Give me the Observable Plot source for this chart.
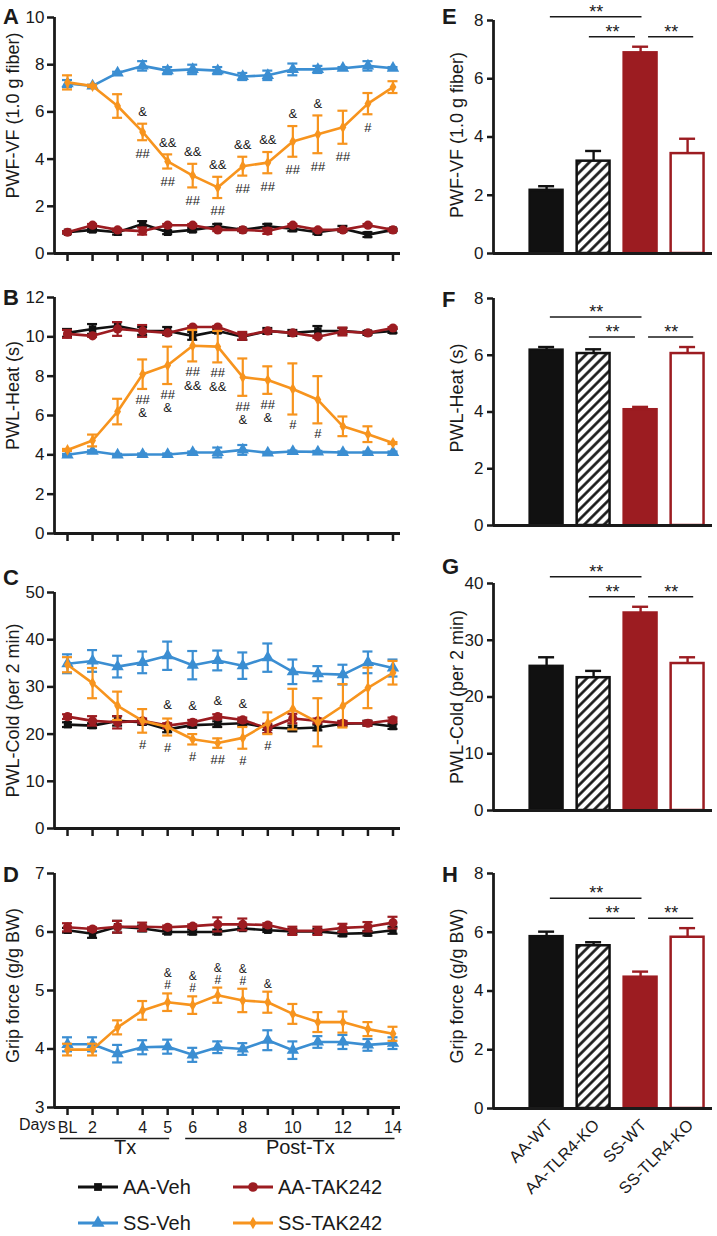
<!DOCTYPE html>
<html><head><meta charset="utf-8">
<script src="https://cdn.jsdelivr.net/npm/d3@7"></script>
<script src="https://cdn.jsdelivr.net/npm/@observablehq/plot@0.6"></script>
<style>
body{margin:0;background:#fff;}
#wrap{position:relative;width:717px;height:1236px;overflow:hidden;font-family:"Liberation Sans",Arial,Helvetica,sans-serif;color:#1a1a1a;}
.letter{position:absolute;font-weight:bold;font-size:22px;line-height:1;}
</style></head><body>
<svg width="0" height="0" style="position:absolute"><defs>
<pattern id="hatch" patternUnits="userSpaceOnUse" width="7" height="7" patternTransform="rotate(45)">
<rect width="7" height="7" fill="#fff"></rect><line x1="3.5" y1="0" x2="3.5" y2="7" stroke="#111" stroke-width="2.6"></line></pattern>
</defs></svg>
<div id="wrap"></div>
<script>
// ---------------- DATA ----------------
const days = d3.range(14);
const dayLabels = ["BL","2","","4","5","6","","8","","10","","12","","14"];
const seriesKeys = ["AAVeh","AATAK","SSVeh","SSTAK"];
const seriesNames = ["AA-Veh","AA-TAK242","SS-Veh","SS-TAK242"];

// Panel A: PWF-VF
const A_AAVeh = [0.9,1.0,0.9,1.25,0.9,1.0,1.15,1.0,1.15,1.05,0.9,1.05,0.8,1.0];
const A_AAVeh_err = [0.05,0.08,0.1,0.12,0.08,0.08,0.1,0.05,0.1,0.1,0.08,0.12,0.1,0.05];
const A_AATAK = [0.9,1.2,1.0,0.95,1.2,1.2,1.0,1.0,0.95,1.2,1.0,1.0,1.2,1.0];
const A_AATAK_err = [0.05,0.05,0.05,0.15,0.05,0.05,0.05,0.05,0.12,0.05,0.05,0.05,0.05,0.05];
const A_SSVeh = [7.2,7.1,7.65,7.95,7.75,7.8,7.75,7.5,7.55,7.8,7.8,7.85,7.95,7.85];
const A_SSVeh_err = [0.15,0.05,0.05,0.2,0.15,0.2,0.15,0.15,0.2,0.25,0.15,0.05,0.2,0.05];
const A_SSTAK = [7.25,7.1,6.25,5.15,3.9,3.3,2.8,3.7,3.85,4.75,5.05,5.35,6.35,7.05];
const A_SSTAK_err = [0.3,0.05,0.5,0.35,0.3,0.5,0.45,0.4,0.45,0.65,0.8,0.7,0.45,0.25];
const A_above = ["","","","&","&&","&&","&&","&&","&&","&","&","","",""];
const A_below = ["","","","##","##","##","##","##","##","##","##","##","#",""];

// Panel B: PWL-Heat
const B_AAVeh = [10.2,10.4,10.55,10.3,10.3,10.05,10.3,10.0,10.3,10.2,10.3,10.3,10.2,10.3];
const B_AAVeh_err = [0.2,0.25,0.2,0.2,0.2,0.2,0.1,0.15,0.15,0.15,0.25,0.15,0.1,0.1];
const B_AATAK = [10.15,10.05,10.4,10.3,10.2,10.5,10.5,10.05,10.3,10.2,10.0,10.27,10.2,10.45];
const B_AATAK_err = [0.2,0.05,0.35,0.3,0.05,0.05,0.05,0.2,0.05,0.05,0.05,0.2,0.05,0.05];
const B_SSVeh = [4.0,4.18,4.0,4.02,4.02,4.12,4.12,4.25,4.1,4.17,4.15,4.12,4.12,4.12];
const B_SSVeh_err = [0.05,0.05,0.05,0.05,0.05,0.05,0.25,0.25,0.05,0.05,0.05,0.05,0.05,0.05];
const B_SSTAK = [4.25,4.73,6.2,8.1,8.55,9.55,9.5,7.95,7.8,7.35,6.8,5.45,5.05,4.6];
const B_SSTAK_err = [0.05,0.3,0.65,0.75,0.95,0.8,0.8,0.95,0.7,1.3,1.2,0.5,0.4,0.05];
const B_below = ["","","","##\n&","##\n&","##\n&&","##\n&&","##\n&","##\n&","#","#","","",""];

// Panel C: PWL-Cold
const C_AAVeh = [22.0,21.8,22.8,22.5,21.0,21.9,22.1,22.3,21.4,21.2,21.4,22.2,22.3,21.6];
const C_AAVeh_err = [0.5,0.5,1.0,0.5,0.6,0.5,0.6,0.5,0.5,0.6,0.6,0.5,0.5,0.5];
const C_AATAK = [23.7,22.8,22.5,22.8,21.8,22.5,23.7,23.0,21.2,23.3,22.8,22.3,22.3,23.0];
const C_AATAK_err = [0.5,1.0,1.3,0.5,0.5,0.5,0.5,0.5,1.0,1.0,0.5,0.5,0.5,0.5];
const C_SSVeh = [34.9,35.5,34.3,35.2,36.6,34.6,35.6,34.5,36.2,33.2,32.8,32.6,35.2,34.0];
const C_SSVeh_err = [2.0,2.3,2.3,2.3,3.0,3.0,2.1,2.8,3.0,2.6,1.6,2.1,2.3,1.8];
const C_SSTAK = [34.7,30.8,26.0,22.8,21.5,18.9,18.1,19.2,22.3,25.3,22.5,26.0,29.8,33.0];
const C_SSTAK_err = [1.6,3.2,3.0,2.5,1.8,1.1,1.0,2.3,2.3,4.3,5.1,4.6,4.3,2.5];
const C_above = ["","","","","&","&","&","&","","","","","",""];
const C_below = ["","","","#","#","#","##","#","#","","","","",""];

// Panel D: Grip force
const D_AAVeh = [6.03,5.97,6.09,6.06,6.0,6.0,6.0,6.06,6.03,6.01,6.01,5.97,5.98,6.03];
const D_AAVeh_err = [0.04,0.07,0.1,0.05,0.03,0.04,0.04,0.03,0.03,0.04,0.04,0.04,0.04,0.06];
const D_AATAK = [6.08,6.05,6.09,6.09,6.08,6.1,6.13,6.13,6.12,6.02,6.02,6.07,6.09,6.16];
const D_AATAK_err = [0.07,0.03,0.1,0.07,0.03,0.03,0.12,0.1,0.03,0.07,0.07,0.07,0.08,0.1];
const D_SSVeh = [4.08,4.08,3.92,4.03,4.04,3.9,4.03,4.0,4.15,3.98,4.12,4.12,4.07,4.1];
const D_SSVeh_err = [0.12,0.12,0.15,0.12,0.12,0.12,0.1,0.1,0.17,0.15,0.1,0.12,0.1,0.1];
const D_SSTAK = [3.99,3.99,4.37,4.66,4.8,4.75,4.92,4.83,4.8,4.6,4.46,4.46,4.34,4.26];
const D_SSTAK_err = [0.1,0.1,0.12,0.16,0.15,0.15,0.13,0.2,0.18,0.17,0.17,0.18,0.12,0.12];
const D_above = ["","","","","&\n#","&\n#","&\n#","&\n#","&","","","","",""];

// Treatment periods
const periods = [{label: "Tx", start: 0, end: 4}, {label: "Post-Tx", start: 5, end: 13}];

// Bar panels E-H
const barGroups = ["AA-WT","AA-TLR4-KO","SS-WT","SS-TLR4-KO"];
const E_vals = [2.17,3.17,6.89,3.43];  const E_err = [0.14,0.35,0.21,0.51];
const F_vals = [6.18,6.06,4.08,6.06];  const F_err = [0.11,0.15,0.1,0.23];
const G_vals = [25.4,23.4,34.8,25.9];  const G_err = [1.6,1.2,1.1,1.1];
const H_vals = [5.85,5.54,4.47,5.83];  const H_err = [0.17,0.12,0.19,0.31];
const sigPairs = [{a:1,b:3,row:0,label:"**"},{a:2,b:3,row:1,label:"**"},{a:3,b:4,row:1,label:"**"}];

// ---------------- STYLE ----------------
const FONT = '"Liberation Sans", Arial, Helvetica, sans-serif';
const INK = "#1a1a1a";
const RED = "#9c1c21";
const COL = {AAVeh: "#111111", AATAK: RED, SSVeh: "#3b8ed2", SSTAK: "#f7941e"};
const SYM = {AAVeh: "square", AATAK: "circle", SSVeh: "triangle", SSTAK: "diamond"};
const RAD = {AAVeh: 4.2, AATAK: 4.6, SSVeh: 4.6, SSTAK: 3.6};
const XDOM = [-0.52, 13.3];
const CAP = 0.2;
const intFmt = d => String(d);
const wrap = document.getElementById("wrap");
function place(el, left, top){ el.style.position = "absolute"; el.style.left = left + "px"; el.style.top = top + "px"; wrap.appendChild(el); }
function letter(t, left, cy){ const d = document.createElement("div"); d.className = "letter"; d.textContent = t; d.style.left = left + "px"; d.style.top = (cy - 11) + "px"; wrap.appendChild(d); }

function seriesRows(mean, err){ return mean.map((m, i) => ({i, m, lo: m - err[i], hi: m + err[i]})); }

function linePanel(cfg){
  const {top, plotH, yDomain, yTicks, ylabel, titleDy, series, annots, showX} = cfg;
  const mt = 17, mb = showX ? 66 : 20;
  const marks = [
    Plot.axisY({ticks: yTicks, tickFormat: intFmt, tickSize: 7, tickPadding: 3, strokeWidth: 2.5, label: null, fontSize: 17}),
    Plot.axisX({ticks: days, tickSize: 8, tickPadding: 6, strokeWidth: 2.5, label: null, fontSize: 16,
      tickFormat: showX ? (d => dayLabels[d]) : (() => "")}),
    Plot.ruleX([XDOM[0]], {y1: yDomain[0], y2: yDomain[1], stroke: INK, strokeWidth: 2.8}),
    Plot.ruleY([yDomain[0]], {x1: XDOM[0], x2: XDOM[1], stroke: INK, strokeWidth: 2.8}),
    Plot.text([ylabel], {text: d => d, frameAnchor: "left", textAnchor: "middle", rotate: -90, dx: -41, dy: titleDy, fontSize: 18, fill: INK})
  ];
  const rowsBy = {};
  for (const s of series){
    const rows = seriesRows(s.mean, s.err);
    rowsBy[s.key] = rows;
    const c = COL[s.key];
    marks.push(Plot.ruleX(rows, {x: "i", y1: "lo", y2: "hi", stroke: c, strokeWidth: 2.2}));
    marks.push(Plot.ruleY(rows, {y: "hi", x1: d => d.i - CAP, x2: d => d.i + CAP, stroke: c, strokeWidth: 2.2}));
    marks.push(Plot.ruleY(rows, {y: "lo", x1: d => d.i - CAP, x2: d => d.i + CAP, stroke: c, strokeWidth: 2.2}));
    marks.push(Plot.line(rows, {x: "i", y: "m", stroke: c, strokeWidth: 2.6}));
    marks.push(Plot.dot(rows, {x: "i", y: "m", symbol: SYM[s.key], r: RAD[s.key], fill: c, stroke: "none"}));
  }
  for (const a of annots){
    const rows = a.texts.map((t, i) => ({i, t, y: a.ref(rowsBy, i)})).filter(d => d.t);
    marks.push(Plot.text(rows, {x: "i", y: "y", text: "t", dy: a.dy, lineAnchor: a.anchor, lineHeight: a.lh || 1.05, fontSize: a.fs || 13, fill: INK}));
  }
  if (showX){
    marks.push(Plot.text(["Days"], {text: d => d, frameAnchor: "bottom-left", dx: 1, dy: 22, textAnchor: "end", fontSize: 16, fill: INK}));
    marks.push(Plot.ruleY(periods, {y: yDomain[0], x1: d => d.start - 0.28, x2: d => d.end + 0.08, dy: 31, stroke: INK, strokeWidth: 1.4}));
    marks.push(Plot.text(periods, {x: d => (d.start + d.end) / 2 + 0.3, frameAnchor: "bottom", text: "label", dy: 46, fontSize: 20, fill: INK}));
  }
  const svg = Plot.plot({
    width: 410, height: mt + plotH + mb, marginLeft: 54, marginRight: 10, marginTop: mt, marginBottom: mb,
    x: {domain: XDOM, axis: null}, y: {domain: yDomain, axis: null},
    style: {fontFamily: FONT, fontSize: "17px", color: INK, background: "transparent", overflow: "visible"},
    marks
  });
  place(svg, 0, top - mt);
}

const hiOf = key => (R, i) => R[key][i].hi;
const loOf = key => (R, i) => R[key][i].lo;

linePanel({top: 17, plotH: 236, yDomain: [0, 10], yTicks: [0,2,4,6,8,10], ylabel: "PWF-VF (1.0 g fiber)", titleDy: -20,
  series: [{key:"AAVeh", mean:A_AAVeh, err:A_AAVeh_err},{key:"AATAK", mean:A_AATAK, err:A_AATAK_err},{key:"SSVeh", mean:A_SSVeh, err:A_SSVeh_err},{key:"SSTAK", mean:A_SSTAK, err:A_SSTAK_err}],
  annots: [{texts: A_above, ref: hiOf("SSTAK"), anchor: "middle", dy: -12}, {texts: A_below, ref: loOf("SSTAK"), anchor: "middle", dy: 13}]});

linePanel({top: 297, plotH: 236, yDomain: [0, 12], yTicks: [0,2,4,6,8,10,12], ylabel: "PWL-Heat (s)", titleDy: -20,
  series: [{key:"AAVeh", mean:B_AAVeh, err:B_AAVeh_err},{key:"AATAK", mean:B_AATAK, err:B_AATAK_err},{key:"SSVeh", mean:B_SSVeh, err:B_SSVeh_err},{key:"SSTAK", mean:B_SSTAK, err:B_SSTAK_err}],
  annots: [{texts: B_below, ref: loOf("SSTAK"), anchor: "top", dy: 5}]});

linePanel({top: 592, plotH: 236, yDomain: [0, 50], yTicks: [0,10,20,30,40,50], ylabel: "PWL-Cold (per 2 min)", titleDy: 0,
  series: [{key:"AAVeh", mean:C_AAVeh, err:C_AAVeh_err},{key:"AATAK", mean:C_AATAK, err:C_AATAK_err},{key:"SSVeh", mean:C_SSVeh, err:C_SSVeh_err},{key:"SSTAK", mean:C_SSTAK, err:C_SSTAK_err}],
  annots: [{texts: C_above, ref: (R, i) => Math.max(R.AAVeh[i].hi, R.AATAK[i].hi, R.SSTAK[i].hi), anchor: "middle", dy: -14},
           {texts: C_below, ref: loOf("SSTAK"), anchor: "middle", dy: 12}]});

linePanel({top: 873, plotH: 234, yDomain: [3, 7], yTicks: [3,4,5,6,7], ylabel: "Grip force (g/g BW)", titleDy: -5, showX: true,
  series: [{key:"AAVeh", mean:D_AAVeh, err:D_AAVeh_err},{key:"AATAK", mean:D_AATAK, err:D_AATAK_err},{key:"SSVeh", mean:D_SSVeh, err:D_SSVeh_err},{key:"SSTAK", mean:D_SSTAK, err:D_SSTAK_err}],
  annots: [{texts: D_above, ref: hiOf("SSTAK"), anchor: "bottom", dy: -4, lh: 1.0, fs: 12}]});

// ---------------- BAR PANELS ----------------
const BXDOM = [-0.13, 4.53];
const barFill = ["#111111", "url(#hatch)", RED, "#ffffff"];
const barStroke = ["#111111", "#111111", RED, RED];
function barPanel(cfg){
  const {top, plotH, ymax, yTicks, ylabel, titleDy, vals, errs, showX} = cfg;
  const mt = 20, mb = showX ? 90 : 12;
  const rows = vals.map((v, k) => ({i: k + 1, v, hi: v + errs[k], fill: barFill[k], stroke: barStroke[k], name: barGroups[k]}));
  const peak = d3.max(rows, d => d.hi);
  const marks = [
    Plot.rect(rows, {x1: d => d.i - 0.35, x2: d => d.i + 0.35, y1: 0, y2: "v", fill: "fill", stroke: "stroke", strokeWidth: 2.5}),
    Plot.ruleX(rows, {x: "i", y1: "v", y2: "hi", stroke: "stroke", strokeWidth: 2.4}),
    Plot.ruleY(rows, {y: "hi", x1: d => d.i - 0.17, x2: d => d.i + 0.17, stroke: "stroke", strokeWidth: 2.4}),
    Plot.axisY({ticks: yTicks, tickFormat: intFmt, tickSize: 6, tickPadding: 4, strokeWidth: 2.5, label: null, fontSize: 17}),
    Plot.ruleX([BXDOM[0]], {y1: 0, y2: ymax, stroke: INK, strokeWidth: 2.8}),
    Plot.ruleY([0], {x1: BXDOM[0], x2: BXDOM[1], stroke: INK, strokeWidth: 2.8}),
    Plot.text([ylabel], {text: d => d, frameAnchor: "left", textAnchor: "middle", rotate: -90, dx: -36, dy: titleDy, fontSize: 18, fill: INK})
  ];
  const trim = {"1-3": [0.08, 0.03], "2-3": [-0.09, -0.11], "3-4": [0.17, 0.13]};
  for (const row of [0, 1]){
    const S = sigPairs.filter(s => s.row === row);
    const off = row === 0 ? -30 : -10;
    const x1 = s => s.a + trim[s.a + "-" + s.b][0], x2 = s => s.b + trim[s.a + "-" + s.b][1];
    marks.push(Plot.ruleY(S, {y: () => peak, x1, x2, dy: off, stroke: INK, strokeWidth: 1.5}));
    marks.push(Plot.text(S, {x: s => (x1(s) + x2(s)) / 2, y: () => peak, text: "label", dy: off + 1, lineAnchor: "bottom", fontSize: 18, fill: INK}));
  }
  if (showX){
    marks.push(Plot.text(rows, {x: "i", text: "name", frameAnchor: "bottom", rotate: -45, textAnchor: "end", lineAnchor: "middle", dx: 3, dy: 14, fontSize: 16.5, fill: INK}));
  }
  const svg = Plot.plot({
    width: 300, height: mt + plotH + mb, marginLeft: 73, marginRight: 8, marginTop: mt, marginBottom: mb,
    x: {domain: BXDOM, axis: null}, y: {domain: [0, ymax], axis: null}, color: {type: "identity"},
    style: {fontFamily: FONT, fontSize: "17px", color: INK, background: "transparent", overflow: "visible"},
    marks
  });
  place(svg, 420, top - mt);
}

barPanel({top: 20, plotH: 233, ymax: 8, yTicks: [0,2,4,6,8], ylabel: "PWF-VF (1.0 g fiber)", titleDy: -2, vals: E_vals, errs: E_err});
barPanel({top: 298, plotH: 227, ymax: 8, yTicks: [0,2,4,6,8], ylabel: "PWL-Heat (s)", titleDy: -14, vals: F_vals, errs: F_err});
barPanel({top: 583, plotH: 227, ymax: 40, yTicks: [0,10,20,30,40], ylabel: "PWL-Cold (per 2 min)", titleDy: 0, vals: G_vals, errs: G_err});
barPanel({top: 873, plotH: 235, ymax: 8, yTicks: [0,2,4,6,8], ylabel: "Grip force (g/g BW)", titleDy: -5, vals: H_vals, errs: H_err, showX: true});

// ---------------- PANEL LETTERS ----------------
letter("A", 3, 17); letter("B", 3, 298); letter("C", 3, 578); letter("D", 3, 875);
letter("E", 442, 17); letter("F", 442, 300); letter("G", 442, 567); letter("H", 442, 875);

// ---------------- LEGEND ----------------
const symType = {square: d3.symbolSquare, circle: d3.symbolCircle, triangle: d3.symbolTriangle, diamond: d3.symbolDiamond};
const lg = d3.create("svg").attr("width", 420).attr("height", 76).style("font-family", FONT);
seriesKeys.forEach((k, j) => {
  const x0 = j % 2 === 0 ? 78 : 233, y = j < 2 ? 22 : 58;
  const g = lg.append("g");
  g.append("line").attr("x1", x0).attr("x2", x0 + 40).attr("y1", y).attr("y2", y).attr("stroke", COL[k]).attr("stroke-width", 2.8);
  g.append("path").attr("transform", `translate(${x0 + 20},${y})`).attr("d", d3.symbol(symType[SYM[k]], Math.PI * RAD[k] * RAD[k] * 1.1)()).attr("fill", COL[k]);
  g.append("text").attr("x", x0 + 45).attr("y", y).attr("dy", "0.35em").attr("font-size", 20).attr("fill", INK).text(seriesNames[j]);
});
place(lg.node(), 0, 1165);
</script>
</body></html>
